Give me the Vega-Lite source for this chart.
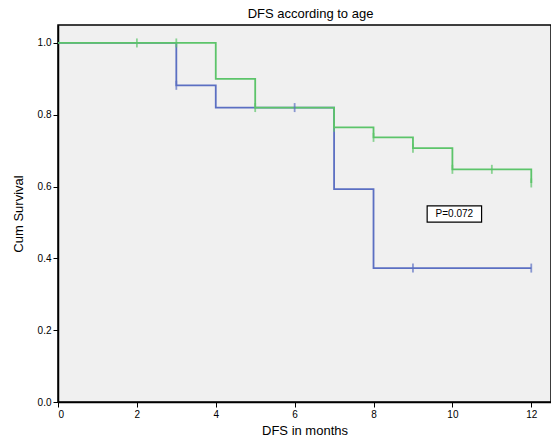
{
  "$schema": "https://vega.github.io/schema/vega-lite/v6.json",
  "width": 493,
  "height": 377,
  "autosize": {"type": "none"},
  "padding": {"left": 58, "top": 25, "right": 0, "bottom": 38},
  "background": "white",
  "title": {"text": "DFS  according to age", "font": "Liberation Sans", "fontSize": 13, "fontWeight": "normal", "color": "black", "offset": 4, "dx": 6},
  "config": {
    "view": {"fill": "#f0f0f0", "stroke": "black", "strokeWidth": 1.5},
    "axis": {"grid": false, "domainColor": "black", "domainWidth": 1.5, "tickColor": "black", "tickSize": 5, "labelFont": "Liberation Sans", "labelFontSize": 10, "labelColor": "black", "titleFont": "Liberation Sans", "titleFontSize": 13, "titleFontWeight": "normal", "titleColor": "black"}
  },
  "datasets": {
    "curves": [
      {"group": "Group 1", "month": 0, "surv": 1.0},
      {"group": "Group 1", "month": 3, "surv": 0.882},
      {"group": "Group 1", "month": 4, "surv": 0.82},
      {"group": "Group 1", "month": 7, "surv": 0.593},
      {"group": "Group 1", "month": 8, "surv": 0.373},
      {"group": "Group 1", "month": 12, "surv": 0.373},
      {"group": "Group 2", "month": 0, "surv": 1.0},
      {"group": "Group 2", "month": 4, "surv": 0.9},
      {"group": "Group 2", "month": 5, "surv": 0.82},
      {"group": "Group 2", "month": 7, "surv": 0.765},
      {"group": "Group 2", "month": 8, "surv": 0.737},
      {"group": "Group 2", "month": 9, "surv": 0.707},
      {"group": "Group 2", "month": 10, "surv": 0.648},
      {"group": "Group 2", "month": 12, "surv": 0.61}
    ],
    "censored": [
      {"group": "Group 1", "month": 3, "surv": 0.882},
      {"group": "Group 1", "month": 6, "surv": 0.82},
      {"group": "Group 1", "month": 9, "surv": 0.373},
      {"group": "Group 1", "month": 12, "surv": 0.373},
      {"group": "Group 2", "month": 2, "surv": 1.0},
      {"group": "Group 2", "month": 3, "surv": 1.0},
      {"group": "Group 2", "month": 5, "surv": 0.82},
      {"group": "Group 2", "month": 7, "surv": 0.765},
      {"group": "Group 2", "month": 8, "surv": 0.737},
      {"group": "Group 2", "month": 9, "surv": 0.707},
      {"group": "Group 2", "month": 10, "surv": 0.648},
      {"group": "Group 2", "month": 11, "surv": 0.648},
      {"group": "Group 2", "month": 12, "surv": 0.61}
    ],
    "pbox": [
      {"x1": 9.36, "x2": 10.74, "y1": 0.546, "y2": 0.501, "xm": 10.05, "ym": 0.5235, "label": "P=0.072"}
    ]
  },
  "layer": [
    {
      "data": {"name": "curves"},
      "mark": {"type": "line", "interpolate": "step-after", "strokeWidth": 1.8, "clip": true},
      "encoding": {
        "x": {"field": "month", "type": "quantitative", "scale": {"domain": [0, 12.5], "nice": false}, "axis": {"values": [0, 2, 4, 6, 8, 10, 12], "title": "DFS in months", "titlePadding": 5}},
        "y": {"field": "surv", "type": "quantitative", "scale": {"domain": [0, 1.05], "nice": false}, "axis": {"values": [0, 0.2, 0.4, 0.6, 0.8, 1.0], "format": ".1f", "title": "Cum Survival", "titlePadding": 12}},
        "color": {"field": "group", "type": "nominal", "scale": {"domain": ["Group 1", "Group 2"], "range": ["#5b6fc2", "#5cc46a"]}, "legend": null},
        "order": {"field": "group"}
      }
    },
    {
      "data": {"name": "censored"},
      "mark": {"type": "tick", "orient": "vertical", "size": 9, "thickness": 1.8},
      "encoding": {
        "x": {"field": "month", "type": "quantitative"},
        "y": {"field": "surv", "type": "quantitative"},
        "color": {"field": "group", "type": "nominal", "legend": null}
      }
    },
    {
      "data": {"name": "pbox"},
      "mark": {"type": "rect", "fill": "white", "stroke": "black", "strokeWidth": 1.2},
      "encoding": {
        "x": {"field": "x1", "type": "quantitative"},
        "x2": {"field": "x2"},
        "y": {"field": "y1", "type": "quantitative"},
        "y2": {"field": "y2"}
      }
    },
    {
      "data": {"name": "pbox"},
      "mark": {"type": "text", "font": "Liberation Sans", "fontSize": 10, "color": "black"},
      "encoding": {
        "x": {"field": "xm", "type": "quantitative"},
        "y": {"field": "ym", "type": "quantitative"},
        "text": {"field": "label"}
      }
    }
  ]
}
